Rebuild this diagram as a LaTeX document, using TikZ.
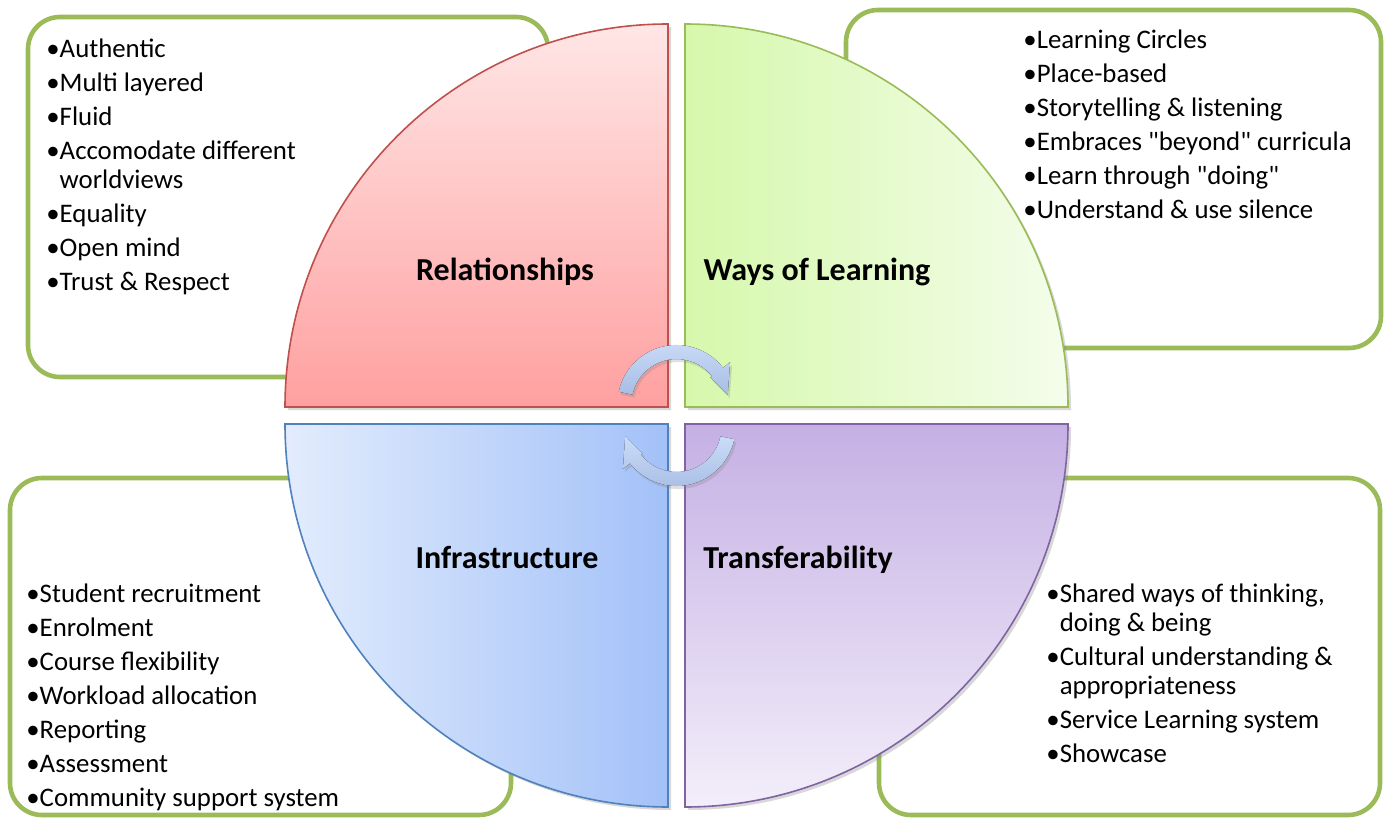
\documentclass[tikz,border=0pt]{standalone}
\usepackage{fontspec}
\setmainfont{Carlito}
\usepackage{tikz}
\usetikzlibrary{shadows}
\definecolor{boxGreen}{HTML}{9BBB59}
\definecolor{relTop}{HTML}{FFE6E6}
\definecolor{relBottom}{HTML}{FFA0A0}
\definecolor{relBorder}{HTML}{C0504D}
\definecolor{waysLeft}{HTML}{D6F8AC}
\definecolor{waysRight}{HTML}{F4FDEB}
\definecolor{waysBorder}{HTML}{9BBB59}
\definecolor{infLeft}{HTML}{E2ECFD}
\definecolor{infRight}{HTML}{A3C1F8}
\definecolor{infBorder}{HTML}{4F81BD}
\definecolor{traTop}{HTML}{C5B0E4}
\definecolor{traBottom}{HTML}{F3EEFA}
\definecolor{traBorder}{HTML}{8064A2}
\definecolor{arrowTop}{HTML}{CADCF8}
\definecolor{arrowBottom}{HTML}{A8BDE4}
\tikzstyle{listbox} = [draw=boxGreen, line width=2.3pt, rounded corners=16pt, fill=white]
\tikzstyle{quadrant} = [line width=0.8pt,
    drop shadow={opacity=0.3, shadow xshift=1.5pt, shadow yshift=-1.5pt}]
\tikzstyle{quadLabel} = [font=\fontsize{16}{19}\selectfont\bfseries, inner sep=0pt, anchor=base]
\tikzstyle{items} = [anchor=north west, inner sep=0pt, align=left,
    font=\fontsize{13.4}{14.5}\selectfont]
\tikzstyle{turnArrow} = [top color=arrowTop, bottom color=arrowBottom,
    drop shadow={opacity=0.25, shadow xshift=1pt, shadow yshift=-1.5pt}]
\newcommand{\qq}{\textquotedbl}

\begin{document}
\begin{tikzpicture}[x=0.5pt, y=-0.5pt]
    \fill[white] (0,0) rectangle (1391,818);
    \useasboundingbox (0,0) rectangle (1391,818);
    \draw [listbox] (28,17) rectangle (548,377);
    \draw [listbox] (846,10) rectangle (1381,348);
    \draw [listbox] (10,478) rectangle (511,815);
    \draw [listbox] (879,478) rectangle (1380,815);
    \draw [quadrant, draw=relBorder, top color=relTop, bottom color=relBottom]
        (668,407) -- (285,407) arc[start angle=180, end angle=270, radius=383] -- cycle;
    \draw [quadrant, draw=waysBorder, left color=waysLeft, right color=waysRight]
        (685,407) -- (685,24) arc[start angle=270, end angle=360, radius=383] -- cycle;
    \draw [quadrant, draw=infBorder, left color=infLeft, right color=infRight]
        (668,424) -- (668,807) arc[start angle=90, end angle=180, radius=383] -- cycle;
    \draw [quadrant, draw=traBorder, top color=traTop, bottom color=traBottom]
        (685,424) -- (1068,424) arc[start angle=0, end angle=90, radius=383] -- cycle;
    \begin{scope}[shift={(676.5,404)}]
        \fill [turnArrow] (192:59) arc[start angle=192, end angle=322, radius=59]
            -- (322:68) -- (350:52) -- (322:43) -- (322:45)
            arc[start angle=322, end angle=192, radius=45] -- cycle;
    \end{scope}
    \begin{scope}[shift={(676.5,427)}]
        \fill [turnArrow] (12:59) arc[start angle=12, end angle=142, radius=59]
            -- (142:68) -- (170:52) -- (142:43) -- (142:45)
            arc[start angle=142, end angle=12, radius=45] -- cycle;
    \end{scope}
    \node [quadLabel] (relLabel) at (505,280) {Relationships};
    \node [quadLabel] (waysLabel) at (817,280) {Ways of Learning};
    \node [quadLabel] (infLabel) at (507,568) {Infrastructure};
    \node [quadLabel] (traLabel) at (798,568) {Transferability};
    \node [items] (relList) at (46,38) {•Authentic\\[2.5pt]•Multi layered\\[2.5pt]•Fluid\\[2.5pt]%
        •Accomodate different\\\phantom{•}worldviews\\[2.5pt]•Equality\\[2.5pt]•Open mind\\[2.5pt]%
        •Trust \& Respect};
    \node [items] (waysList) at (1023,29) {•Learning Circles\\[2.5pt]•Place-based\\[2.5pt]%
        •Storytelling \& listening\\[2.5pt]•Embraces \qq beyond\qq{} curricula\\[2.5pt]%
        •Learn through \qq doing\qq\\[2.5pt]•Understand \& use silence};
    \node [items] (infList) at (26,583) {•Student recruitment\\[2.5pt]•Enrolment\\[2.5pt]%
        •Course flexibility\\[2.5pt]•Workload allocation\\[2.5pt]•Reporting\\[2.5pt]%
        •Assessment\\[2.5pt]•Community support system};
    \node [items] (traList) at (1046,583) {•Shared ways of thinking,\\\phantom{•}doing \& being\\[2.5pt]%
        •Cultural understanding \&\\\phantom{•}appropriateness\\[2.5pt]%
        •Service Learning system\\[2.5pt]•Showcase};
\end{tikzpicture}
\end{document}
